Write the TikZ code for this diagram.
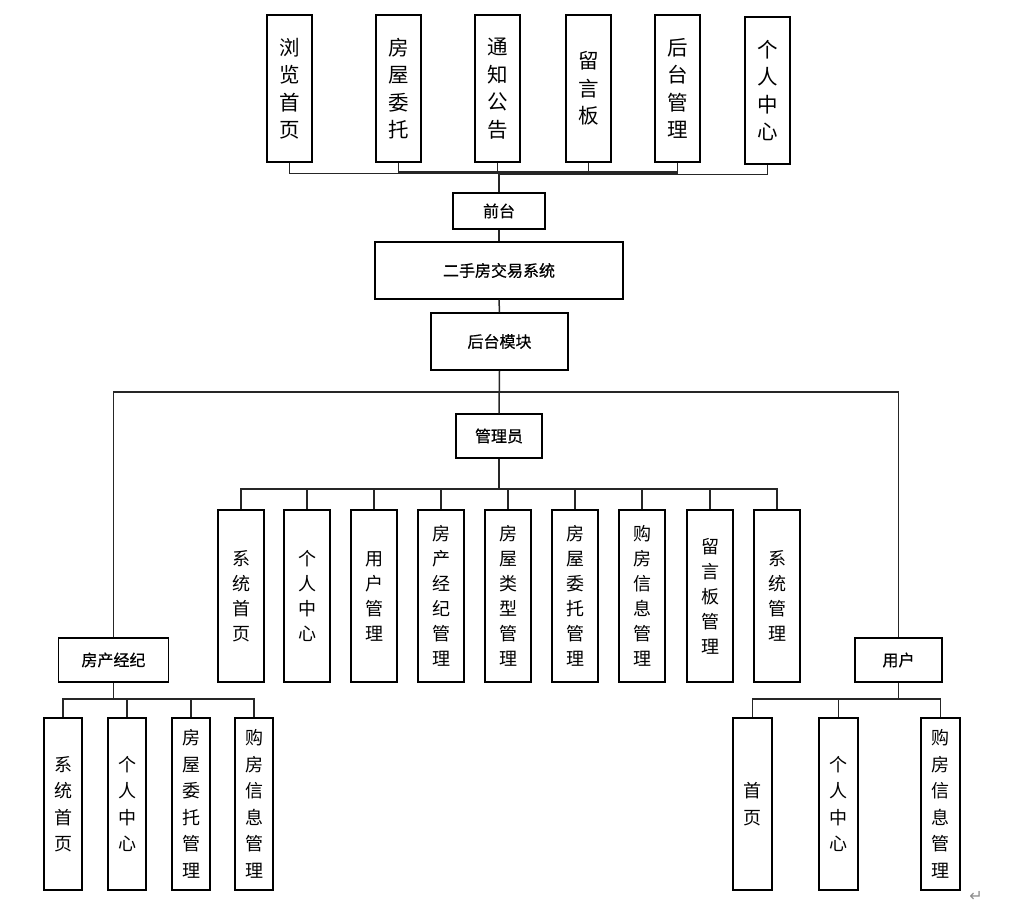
\documentclass[tikz,border=0pt]{standalone}
\usepackage{fontspec}
\setmainfont{Noto Sans CJK SC}
\newfontfamily\hfont[FakeBold=0.5]{Noto Sans CJK SC}
\newfontfamily\symfont{DejaVu Sans}
\begin{document}
\begin{tikzpicture}[x=1pt,y=-1pt,
  box/.style={draw=black,line width=1.5pt,fill=white,inner sep=0pt,align=center},
  vtop/.style={box,minimum width=45pt,minimum height=147pt,font=\fontsize{20.5}{27.5}\selectfont},
  vmid/.style={box,minimum width=46pt,minimum height=172pt,font=\fontsize{18}{25}\selectfont},
  vbot/.style={box,minimum width=38pt,minimum height=172pt,font=\fontsize{18}{26.5}\selectfont},
  hbox/.style={box,font=\hfont\fontsize{16}{18}\selectfont},
  conn/.style={draw=black!85,line width=1.5pt}]
\useasboundingbox (0,0) rectangle (1011,911);
% top row
\node[vtop] (t1) at (289.5,88.5) {浏\\览\\首\\页};
\node[vtop] (t2) at (398.5,88.5) {房\\屋\\委\\托};
\node[vtop] (t3) at (497.5,88.5) {通\\知\\公\\告};
\node[vtop] (t4) at (588.5,88.5) {留\\言\\板};
\node[vtop] (t5) at (677.5,88.5) {后\\台\\管\\理};
\node[vtop] (t6) at (767.5,90.5) {个\\人\\中\\心};
% central spine
\node[hbox,minimum width=92pt,minimum height=36pt] (qt) at (499,211) {前台};
\node[hbox,minimum width=248pt,minimum height=57pt] (sys) at (499,270.5) {二手房交易系统};
\node[hbox,minimum width=137pt,minimum height=57pt] (ht) at (499.5,341.5) {后台模块};
\node[hbox,minimum width=86pt,minimum height=44pt] (gly) at (499,436) {管理员};
\node[hbox,minimum width=110pt,minimum height=44pt] (jj) at (113.5,660) {房产经纪};
\node[hbox,minimum width=87pt,minimum height=44pt] (yh) at (898.5,660) {用户};
% middle row
\node[vmid] (m1) at (241,596) {系\\统\\首\\页};
\node[vmid] (m2) at (307,596) {个\\人\\中\\心};
\node[vmid] (m3) at (374,596) {用\\户\\管\\理};
\node[vmid] (m4) at (441,596) {房\\产\\经\\纪\\管\\理};
\node[vmid] (m5) at (508,596) {房\\屋\\类\\型\\管\\理};
\node[vmid] (m6) at (575,596) {房\\屋\\委\\托\\管\\理};
\node[vmid] (m7) at (642,596) {购\\房\\信\\息\\管\\理};
\node[vmid] (m8) at (710,596) {留\\言\\板\\管\\理};
\node[vmid] (m9) at (777,596) {系\\统\\管\\理};
% bottom left
\node[vbot] (b1) at (63,804) {系\\统\\首\\页};
\node[vbot] (b2) at (127,804) {个\\人\\中\\心};
\node[vbot] (b3) at (191,804) {房\\屋\\委\\托\\管\\理};
\node[vbot] (b4) at (254,804) {购\\房\\信\\息\\管\\理};
% bottom right
\node[vbot,minimum width=39pt] (r1) at (752.5,804) {首\\页};
\node[vbot,minimum width=39pt] (r2) at (838.5,804) {个\\人\\中\\心};
\node[vbot,minimum width=39pt] (r3) at (940.5,804) {购\\房\\信\\息\\管\\理};
% return mark
\node[font=\symfont\fontsize{16}{16}\selectfont,text=black!45,inner sep=0pt] (ret) at (976,896) {↵};
% connectors top
\foreach \n in {t1,t2,t3,t4,t5} \draw[conn] (\n.south) -- ++(0,10.5) -| (qt.north);
\draw[conn] (t6.south) -- ++(0,9.5) -| (qt.north);
\draw[conn,line width=2.6pt] (qt.north) -- ++(0,-20);
\draw[conn,line width=2.6pt] (398.5,172.5) -- (677.5,172.5);
\draw[conn] (qt.south) -- (sys.north);
\draw[conn] (sys.south) -- (ht.north);
\coordinate (hub) at (499,392);
\draw[conn] (ht.south) -- (gly.north);
\draw[conn] (jj.north) |- (hub) -| (yh.north);
% admin children
\foreach \n in {m1,m2,m3,m4,m5,m6,m7,m8,m9} \draw[conn] (gly.south) -- ++(0,30) -| (\n.north);
\draw[conn,line width=2.6pt] (gly.south) -- ++(0,30);
% broker children
\foreach \n in {b1,b2,b3,b4} \draw[conn] (jj.south) -- ++(0,16) -| (\n.north);
% user children
\foreach \n in {r1,r2,r3} \draw[conn] (yh.south) -- ++(0,16) -| (\n.north);
\end{tikzpicture}
\end{document}
